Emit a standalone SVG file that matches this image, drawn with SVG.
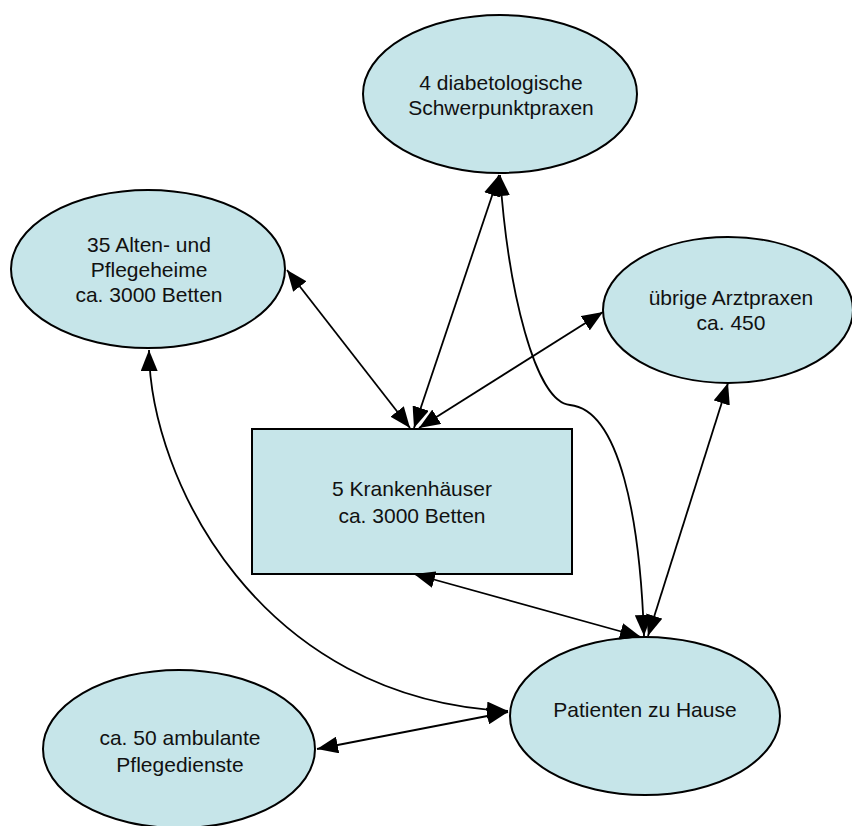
<svg xmlns="http://www.w3.org/2000/svg" width="852" height="826" viewBox="0 0 852 826">
<style>
.n{fill:#C6E5E9;stroke:#000;stroke-width:2}
.t{font-family:"Liberation Sans",Arial,sans-serif;font-size:21px;fill:#111;text-anchor:middle}
.c{fill:none;stroke:#000;stroke-width:1.8;marker-start:url(#a);marker-end:url(#a)}
</style>
<defs>
<marker id="a" viewBox="0 0 21 17" refX="21" refY="8.5" markerWidth="21" markerHeight="17" markerUnits="userSpaceOnUse" orient="auto-start-reverse">
<path d="M0,0 L21,8.5 L0,17 z" fill="#000"/>
</marker>
</defs>
<rect width="852" height="826" fill="#fff"/>
<g id="schwerpunkt">
<ellipse class="n" cx="500" cy="94" rx="137" ry="79"/>
<text class="t" x="501" y="90">4 diabetologische</text>
<text class="t" x="501" y="115">Schwerpunktpraxen</text>
</g>
<g id="alten">
<ellipse class="n" cx="148" cy="269" rx="137" ry="79"/>
<text class="t" x="149" y="252">35 Alten- und</text>
<text class="t" x="149" y="277">Pflegeheime</text>
<text class="t" x="149" y="302">ca. 3000 Betten</text>
</g>
<g id="uebrige">
<ellipse class="n" cx="728" cy="310" rx="125" ry="73"/>
<text class="t" x="731" y="305">übrige Arztpraxen</text>
<text class="t" x="731" y="330">ca. 450</text>
</g>
<g id="krankenhaeuser">
<rect class="n" x="252" y="429" width="320" height="145"/>
<text class="t" x="412" y="496">5 Krankenhäuser</text>
<text class="t" x="412" y="523">ca. 3000 Betten</text>
</g>
<g id="patienten">
<ellipse class="n" cx="645" cy="716" rx="135" ry="79"/>
<text class="t" x="645" y="717">Patienten zu Hause</text>
</g>
<g id="ambulante">
<ellipse class="n" cx="179" cy="749" rx="136" ry="79"/>
<text class="t" x="180" y="745">ca. 50 ambulante</text>
<text class="t" x="180" y="772">Pflegedienste</text>
</g>
<g id="connectors">
<path class="c" d="M287,270 L410,428"/>
<path class="c" d="M499,175 L414,428"/>
<path class="c" d="M603,312 L419,428"/>
<path class="c" d="M500,175 C508,290 535,402 570,405 C620,410 640,520 644,636"/>
<path class="c" d="M728,383 L648,636"/>
<path class="c" d="M414,574 L641,637"/>
<path class="c" d="M149,350 C150,480 260,700 508,711"/>
<path class="c" d="M317,749 L508,712"/>
</g>
</svg>
